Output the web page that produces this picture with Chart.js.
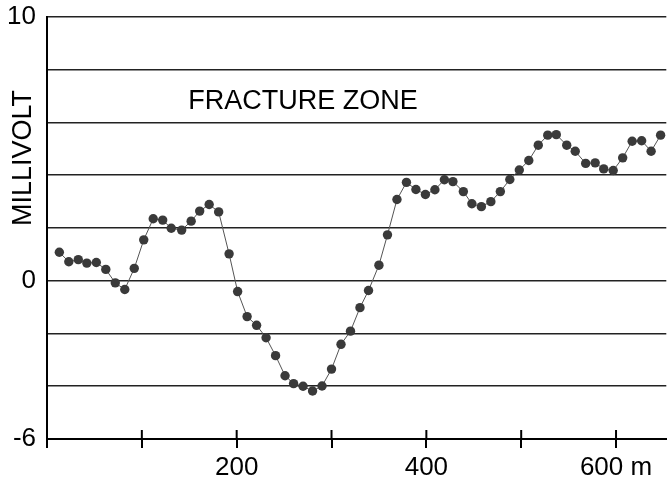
<!DOCTYPE html>
<html>
<head>
<meta charset="utf-8">
<script src="https://cdn.jsdelivr.net/npm/chart.js@4/dist/chart.umd.min.js"></script>
<style>
html,body{margin:0;padding:0;background:#fff;}
#wrap{width:671px;height:480px;}
</style>
</head>
<body>
<div id="wrap"><canvas id="c" width="671" height="480"></canvas></div>
<script>
// Distance along profile (m)
const distance = [13,23,33,42,52,62,72,82,92,102,112,122,131,142,152,161,171,181,192,201,
  211,221,231,241,251,260,270,280,290,300,310,320,330,339,350,359,369,379,389,399,
  409,419,428,439,448,458,468,478,488,498,508,518,528,537,548,557,568,578,587,597,
  607,617,627,637,647];
// Self-potential (millivolt)
const millivolt = [1.08,0.72,0.80,0.67,0.69,0.43,-0.08,-0.33,0.47,1.55,
  2.35,2.30,1.99,1.92,2.26,2.64,2.89,2.61,1.02,-0.41,
  -1.36,-1.69,-2.16,-2.84,-3.60,-3.90,-4.00,-4.18,-3.99,-3.35,
  -2.41,-1.91,-1.02,-0.37,0.59,1.74,3.08,3.73,3.46,3.27,
  3.45,3.83,3.76,3.38,2.92,2.81,3.00,3.38,3.84,4.20,
  4.56,5.14,5.52,5.54,5.14,4.91,4.45,4.47,4.24,4.18,
  4.66,5.29,5.31,4.91,5.52];
const yTickLabels = {"10":"10","0":"0","-6":"-6"};
const xTickLabels = {"200":"200","400":"400","600":"600 m"};
const yTitle = "MILLIVOLT";
const annotationText = "FRACTURE ZONE";
const annotationAt = {x: 270, y: 6.5};

const FONT = "'Liberation Sans', Arial, Helvetica, sans-serif";

const extras = {
  id: 'extras',
  beforeDraw(chart) {
    const ctx = chart.ctx;
    ctx.save();
    ctx.fillStyle = '#fff';
    ctx.fillRect(0, 0, chart.width, chart.height);
    ctx.restore();
  },
  afterDraw(chart) {
    const ctx = chart.ctx;
    const xs = chart.scales.x, ys = chart.scales.y;
    ctx.save();
    ctx.strokeStyle = '#000';
    ctx.lineWidth = 2;
    xs.ticks.forEach(t => {
      const px = xs.getPixelForValue(t.value);
      ctx.beginPath();
      ctx.moveTo(px, ys.bottom);
      ctx.lineTo(px, ys.bottom - 9);
      ctx.stroke();
    });
    ctx.fillStyle = '#000';
    ctx.font = '27px ' + FONT;
    ctx.textAlign = 'center';
    ctx.textBaseline = 'alphabetic';
    ctx.fillText(annotationText, xs.getPixelForValue(annotationAt.x), ys.getPixelForValue(annotationAt.y));
    ctx.translate(31, 158);
    ctx.rotate(-Math.PI / 2);
    ctx.fillText(yTitle, 0, 0);
    ctx.restore();
  }
};

new Chart(document.getElementById('c'), {
  type: 'line',
  data: {
    datasets: [{
      data: distance.map((d, i) => ({x: d, y: millivolt[i]})),
      borderColor: '#555',
      borderWidth: 1,
      pointRadius: 4.7,
      pointBackgroundColor: '#3a3a3a',
      pointBorderWidth: 0,
      tension: 0,
      clip: false
    }]
  },
  options: {
    responsive: false,
    animation: false,
    events: [],
    layout: {padding: {top: 17, right: 0, left: 0, bottom: 0}},
    plugins: {legend: {display: false}, tooltip: {enabled: false}},
    scales: {
      x: {
        type: 'linear',
        min: 0,
        max: 653,
        afterFit: s => { s.height = 41; s.paddingLeft = 0; s.paddingRight = 0; },
        ticks: {
          stepSize: 100,
          includeBounds: false,
          autoSkip: false,
          maxRotation: 0,
          padding: 4,
          color: '#000',
          font: {family: FONT, size: 26},
          callback: v => xTickLabels[String(v)] || ''
        },
        grid: {drawOnChartArea: false, drawTicks: true, tickLength: 9, color: '#000', lineWidth: 2},
        border: {display: true, color: '#000', width: 2}
      },
      y: {
        min: -6,
        max: 10,
        afterFit: s => { s.width = 47; s.paddingTop = 0; s.paddingBottom = 0; },
        ticks: {
          stepSize: 2,
          autoSkip: false,
          padding: 11,
          color: '#000',
          font: {family: FONT, size: 26},
          callback: v => yTickLabels[String(v)] || ''
        },
        grid: {drawTicks: false, color: '#222', lineWidth: 1.6},
        border: {display: true, color: '#000', width: 2}
      }
    }
  },
  plugins: [extras]
});
</script>
</body>
</html>
